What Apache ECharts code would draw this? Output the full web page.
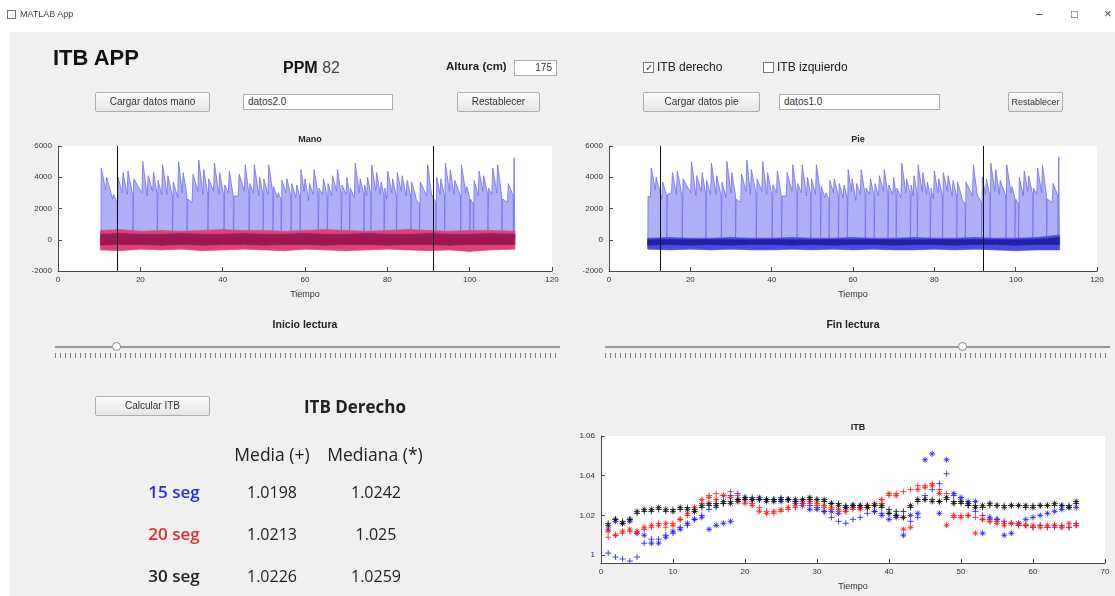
<!DOCTYPE html>
<html><head><meta charset="utf-8">
<script src="https://cdn.jsdelivr.net/npm/echarts@6/dist/echarts.min.js"></script>
<style>
html,body{margin:0;padding:0;width:1115px;height:596px;overflow:hidden;background:#fff;font-family:"Liberation Sans",Arial,sans-serif;}
#panel{position:absolute;left:10px;top:32px;width:1105px;height:564px;background:#f0f0f0;}
#chart{position:absolute;left:0;top:0;width:1115px;height:596px;z-index:1;}
.ui{position:absolute;z-index:2;box-sizing:border-box;}
.btn{background:linear-gradient(#fbfbfb,#e6e6e6);border:1px solid #adadad;border-radius:2px;font-size:10px;color:#333;text-align:center;line-height:18px;white-space:nowrap;overflow:hidden;}
.txt{background:#fff;border:1px solid #abadb3;font-size:10px;color:#333;padding-left:4px;line-height:14px;}
.lbl{font-size:12px;color:#222;white-space:nowrap;}
.tbl{font-family:"Open Sans",sans-serif;font-size:16px;color:#222;text-align:center;white-space:nowrap;}
.track{height:2px;background:#9a9a9a;}
.ticks{height:5px;background:repeating-linear-gradient(to right,#808080 0 1px,transparent 1px 5px);}
.thumb{width:9px;height:9px;border-radius:50%;background:#fff;border:1px solid #8a8a8a;}
.chk{width:11px;height:11px;background:#fff;border:1px solid #7a7a7a;font-size:10px;line-height:9px;text-align:center;color:#333;}
</style></head>
<body>
<div id="panel"></div>
<!-- title bar -->
<div class="ui" style="left:7px;top:10px;width:9px;height:9px;border:1px solid #777;"></div>
<div class="ui lbl" style="left:20px;top:9px;font-size:9px;color:#444;">MATLAB App</div>
<div class="ui lbl" style="left:1036px;top:7px;font-size:12px;color:#444;">–</div>
<div class="ui lbl" style="left:1071px;top:7px;font-size:12px;color:#444;">□</div>
<div class="ui lbl" style="left:1104px;top:6px;font-size:13px;color:#444;">×</div>

<!-- header left -->
<div class="ui" style="left:53px;top:45px;font-size:22px;font-weight:bold;color:#111;">ITB APP</div>
<div class="ui" style="left:283px;top:59px;font-size:16px;color:#111;"><b>PPM</b> <span style="color:#444">82</span></div>
<div class="ui lbl" style="left:446px;top:60px;font-weight:bold;font-size:11.5px;">Altura (cm)</div>
<div class="ui txt" style="left:514px;top:60px;width:43px;height:16px;text-align:right;padding-right:4px;">175</div>
<div class="ui btn" style="left:95px;top:92px;width:115px;height:20px;">Cargar datos mano</div>
<div class="ui txt" style="left:243px;top:94px;width:150px;height:16px;">datos2.0</div>
<div class="ui btn" style="left:457px;top:92px;width:83px;height:20px;">Restablecer</div>

<!-- header right -->
<div class="ui chk" style="left:643px;top:62px;">✓</div>
<div class="ui lbl" style="left:657px;top:60px;">ITB derecho</div>
<div class="ui chk" style="left:763px;top:62px;"></div>
<div class="ui lbl" style="left:777px;top:60px;">ITB izquierdo</div>
<div class="ui btn" style="left:643px;top:92px;width:117px;height:20px;">Cargar datos pie</div>
<div class="ui txt" style="left:779px;top:94px;width:161px;height:16px;">datos1.0</div>
<div class="ui btn" style="left:1008px;top:92px;width:55px;height:20px;font-size:9px;">Restablecer</div>

<!-- sliders -->
<div class="ui lbl" style="left:205px;top:318px;width:200px;text-align:center;font-weight:bold;font-size:10.5px;">Inicio lectura</div>
<div class="ui track" style="left:55px;top:346px;width:505px;"></div>
<div class="ui ticks" style="left:55px;top:353px;width:505px;"></div>
<div class="ui thumb" style="left:112px;top:342px;"></div>
<div class="ui lbl" style="left:753px;top:318px;width:200px;text-align:center;font-weight:bold;font-size:10.5px;">Fin lectura</div>
<div class="ui track" style="left:605px;top:346px;width:505px;"></div>
<div class="ui ticks" style="left:605px;top:353px;width:505px;"></div>
<div class="ui thumb" style="left:958px;top:342px;"></div>

<!-- results -->
<div class="ui btn" style="left:95px;top:396px;width:115px;height:20px;">Calcular ITB</div>
<div class="ui tbl" style="left:255px;top:395px;width:200px;font-size:17px;font-weight:bold;">ITB Derecho</div>
<div class="ui tbl" style="left:212px;top:442px;width:120px;font-size:17.5px;">Media (+)</div>
<div class="ui tbl" style="left:315px;top:442px;width:120px;font-size:17.5px;">Mediana (*)</div>
<div class="ui tbl" style="left:124px;top:480px;width:100px;font-weight:600;font-size:17px;color:#2a2ae6;">15 seg</div>
<div class="ui tbl" style="left:212px;top:481px;width:120px;">1.0198</div>
<div class="ui tbl" style="left:316px;top:481px;width:120px;">1.0242</div>
<div class="ui tbl" style="left:124px;top:522px;width:100px;font-weight:600;font-size:17px;color:#e62a32;">20 seg</div>
<div class="ui tbl" style="left:212px;top:523px;width:120px;">1.0213</div>
<div class="ui tbl" style="left:316px;top:523px;width:120px;">1.025</div>
<div class="ui tbl" style="left:124px;top:564px;width:100px;font-weight:600;font-size:17px;">30 seg</div>
<div class="ui tbl" style="left:212px;top:565px;width:120px;">1.0226</div>
<div class="ui tbl" style="left:316px;top:565px;width:120px;">1.0259</div>

<div id="chart"></div>
<script>
// ---------- DATA ----------
const manoPeakT = [10.5,11.8,13.5,14.6,15.8,17.0,18.4,20.6,21.9,23.2,24.3,25.4,26.7,28.0,29.3,30.4,31.5,32.8,34.2,35.4,36.6,38.0,39.3,40.5,41.6,42.8,44.0,45.5,46.6,47.7,49.0,50.0,51.2,52.4,53.5,54.4,55.6,56.8,58.0,59.0,60.0,61.1,62.2,63.4,64.5,65.6,66.7,67.9,69.0,70.2,71.0,72.2,73.4,74.5,75.2,76.2,77.4,78.5,79.4,80.1,81.3,82.4,83.6,84.8,85.9,87.0,88.0,89.8,90.9,92.0,93.0,94.1,95.3,96.4,98.0,99.3,100.2,101.1,102.3,103.4,104.6,105.6,106.8,108.0,109.4,110.8];
const manoPeakV = [4600,4000,2900,4000,4300,4400,3900,5000,4100,4300,
  3800,4800,4100,3700,5000,4300,2600,4200,5100,4500,
  3900,4900,4300,3500,4400,2800,4200,4800,3600,4800,
  4000,3900,4800,3400,3000,3800,3900,3600,3500,4500,
  3900,3600,4500,3300,3900,3600,4100,4500,3500,4000,
  3300,4900,3900,3500,4000,4800,4300,3700,3300,4400,
  3900,4300,4100,3800,3700,2600,3700,4800,2800,4000,
  3900,4900,4500,3800,4800,3400,2600,3800,4400,4100,
  3300,4600,4800,2600,3600,5250];
const manoShoulder = [3200,2600,2400,3000,2900,2800,3000,2800,3100,2900,
  2900,2900,2800,2700,3000,2900,2400,3100,2900,2900,
  3100,2900,2800,3000,2800,2800,3100,2900,3000,2800,
  2900,2900,3000,2700,2600,3000,2800,2700,2700,3100,
  2500,2900,2900,2900,2800,2800,3100,2900,2900,2900,
  2700,3000,2900,2800,2900,3100,2900,2800,2600,3000,
  2800,3100,2800,2800,2900,2300,2800,3000,2400,2900,
  2800,3100,2900,2800,3000,2700,2300,2800,3100,2900,
  2900,3000,2800,2400,2800,2800];
const manoGap = [0,0,1,0,0,1,0,0,0,1,
  0,0,1,0,0,1,0,0,0,1,
  0,0,1,0,1,0,0,1,0,0,
  1,0,1,0,1,0,1,0,1,0,
  0,0,1,0,1,0,0,1,0,1,
  0,0,1,0,1,0,0,1,0,0,
  1,0,0,1,0,1,0,0,1,0,
  1,0,0,1,0,1,1,0,0,1,
  0,0,1,0,1,1];
const manoBandT  = [10.3,15,20,25,30,35,40,45,50,55,60,65,70,75,80,85,90,95,100,105,111];
const manoBandLo = [-650,-700,-600,-650,-600,-700,-650,-600,-650,-700,-600,-650,-700,-650,-600,-650,-700,-650,-750,-650,-600];
const manoBandHi = [600,650,550,600,550,600,650,600,600,550,600,650,600,550,600,650,600,550,600,600,550];
const manoCoreLo = [-350,-300,-300,-350,-300,-350,-300,-300,-350,-300,-300,-350,-300,-300,-350,-300,-300,-350,-300,-300,-300];
const manoCoreHi = [350,400,350,350,400,350,350,400,350,350,400,350,350,400,350,350,400,350,350,400,350];
const manoCursors = [14.3, 91.1];

const piePeakT = [9.6,10.4,11.6,13.2,14.4,15.6,16.8,18.2,20.3,21.6,
  22.9,24.0,25.2,26.5,27.8,29.0,30.2,31.3,32.6,33.9,
  35.0,36.4,37.8,39.0,40.3,41.4,42.6,43.8,45.2,46.4,
  47.5,48.8,49.8,51.0,52.2,53.3,54.3,55.4,56.6,57.8,
  58.8,59.8,60.9,62.0,63.2,64.3,65.4,66.5,67.7,68.8,
  70.0,70.8,72.0,73.2,74.3,75.0,76.0,77.2,78.3,79.2,
  80.0,81.1,82.2,83.4,84.6,85.7,86.8,87.8,89.6,90.7,
  91.8,92.8,93.9,95.1,96.2,97.8,99.1,100.0,100.9,102.1,
  103.2,104.4,105.4,106.6,107.8,109.2,110.6];
const piePeakV = [2800,4600,4000,3700,2900,4300,4400,3900,5000,4100,
  4300,3800,4900,4100,3700,5000,4300,2600,4200,5100,
  4500,3900,5000,4300,3500,4400,2800,4300,4800,3600,
  4800,4000,3900,4800,3400,3000,3800,3900,3600,3500,
  4500,3900,3600,4500,3300,3900,3600,4100,4500,3500,
  4000,3300,4900,3900,3500,4100,4800,4300,3700,3300,
  4400,3900,4300,4100,3800,3700,2600,3700,4800,2800,
  4000,3900,4900,4500,3800,4800,3400,2600,4000,4400,
  4100,3300,4600,4800,2600,3600,5300];
const pieShoulder = [2700,3200,2600,2800,3000,2900,2800,3000,2800,3100,
  2900,2900,2900,2800,2700,3000,2900,2400,3100,2900,
  2900,3100,2900,2800,3000,2800,2800,3100,2900,3000,
  2800,2900,2900,3000,2700,2600,3000,2800,2700,2700,
  3100,2500,2900,2900,2900,2800,2800,3100,2900,2900,
  2900,2700,3000,2900,2800,2900,3100,2900,2800,2600,
  3000,2800,3100,2800,2800,2900,2300,2800,3000,2400,
  2900,2800,3100,2900,2800,3000,2700,2300,2800,3100,
  2900,2900,3000,2800,2400,2800,2800];
const pieGap = [0,0,0,1,0,0,1,0,0,0,
  1,0,0,1,0,0,1,0,0,0,
  1,0,0,1,0,1,0,0,1,0,
  0,1,0,1,0,1,0,1,0,1,
  0,0,0,1,0,1,0,0,1,0,
  1,0,0,1,0,1,0,0,1,0,
  0,1,0,0,1,0,1,0,0,1,
  0,1,0,0,1,0,1,1,0,0,
  1,0,0,1,0,1,1];
const pieBandT  = [9.5,15,20,25,30,35,40,45,50,55,60,65,70,75,80,85,90,95,100,105,110.8];
const pieBandLo = [-600,-650,-600,-650,-600,-650,-650,-600,-650,-600,-650,-600,-650,-650,-600,-650,-600,-650,-700,-650,-650];
const pieBandHi = [100,150,100,100,150,100,100,150,100,100,150,100,100,150,100,100,150,100,100,150,300];
const pieCoreLo = [-350,-300,-350,-300,-350,-300,-300,-350,-300,-350,-300,-300,-350,-300,-300,-350,-300,-300,-350,-300,-300];
const pieCoreHi = [0,20,0,20,0,0,20,0,0,20,0,20,0,0,20,0,20,0,0,20,150];
const pieCursors = [12.5, 92.0];

const itbT = [1,2,3,4,5,6,7,8,9,10,11,12,13,14,15,16,17,18,19,20,21,22,23,24,25,26,27,28,29,30,31,32,33,34,35,36,37,38,39,40,41,42,43,44,45,46,47,48,49,50,51,52,53,54,55,56,57,58,59,60,61,62,63,64,65,66];
const b15Media = [1.001,0.999,0.998,0.997,0.999,1.006,1.008,1.008,1.010,1.011,
  1.014,1.015,1.018,1.020,1.023,1.024,1.026,1.030,1.031,1.029,
  1.029,1.028,1.028,1.028,1.029,1.028,1.027,1.026,1.025,1.024,
  1.022,1.019,1.017,1.016,1.018,1.019,1.021,1.022,1.021,1.021,
  1.020,1.019,1.017,1.019,1.030,1.033,1.036,1.041,1.030,1.027,
  1.025,1.022,1.020,1.018,1.018,1.017,1.016,1.015,1.015,1.014,
  1.015,1.014,1.014,1.015,1.014,1.016];
const b15Mediana = [1.013,1.017,1.016,1.017,1.011,1.010,1.006,1.006,1.009,1.012,
  1.013,1.016,1.018,1.019,1.013,1.015,1.016,1.017,1.027,1.028,
  1.028,1.029,1.027,1.028,1.027,1.028,1.026,1.025,1.023,1.023,
  1.022,1.022,1.021,1.024,1.025,1.024,1.024,1.022,1.020,1.018,
  1.019,1.010,1.020,1.021,1.048,1.051,1.021,1.048,1.031,1.029,
  1.027,1.027,1.011,1.019,1.018,1.010,1.011,1.016,1.018,1.019,
  1.020,1.021,1.022,1.023,1.024,1.024];
const r20Media = [1.009,1.010,1.011,1.012,1.011,1.013,1.014,1.016,1.014,1.016,
  1.018,1.020,1.022,1.026,1.030,1.031,1.030,1.032,1.030,1.028,
  1.026,1.024,1.022,1.021,1.022,1.023,1.024,1.025,1.026,1.025,
  1.024,1.023,1.022,1.022,1.023,1.024,1.025,1.025,1.026,1.030,
  1.031,1.032,1.033,1.035,1.035,1.036,1.033,1.031,1.019,1.020,
  1.020,1.019,1.018,1.017,1.017,1.016,1.016,1.015,1.015,1.014,
  1.015,1.014,1.015,1.014,1.014,1.015];
const r20Mediana = [1.012,1.010,1.012,1.013,1.012,1.014,1.015,1.015,1.016,1.015,
  1.018,1.021,1.024,1.028,1.029,1.028,1.030,1.029,1.027,1.026,
  1.025,1.022,1.021,1.022,1.023,1.024,1.025,1.027,1.027,1.026,
  1.025,1.024,1.023,1.022,1.024,1.023,1.025,1.026,1.028,1.031,
  1.030,1.013,1.014,1.033,1.034,1.035,1.031,1.015,1.020,1.019,
  1.020,1.011,1.018,1.017,1.016,1.015,1.016,1.016,1.015,1.015,
  1.014,1.015,1.015,1.014,1.016,1.015];
const k30Media = [1.016,1.018,1.017,1.018,1.021,1.022,1.022,1.023,1.022,1.023,
  1.023,1.024,1.023,1.024,1.025,1.026,1.026,1.027,1.028,1.028,
  1.028,1.028,1.028,1.028,1.028,1.028,1.027,1.028,1.028,1.028,
  1.027,1.026,1.026,1.025,1.025,1.025,1.025,1.025,1.024,1.023,
  1.022,1.022,1.024,1.027,1.028,1.028,1.027,1.028,1.027,1.026,
  1.025,1.025,1.024,1.025,1.025,1.025,1.025,1.025,1.024,1.025,
  1.025,1.025,1.025,1.025,1.025,1.026];
const k30Mediana = [1.015,1.018,1.016,1.018,1.022,1.023,1.023,1.024,1.023,1.022,
  1.024,1.023,1.022,1.025,1.026,1.025,1.027,1.026,1.028,1.029,
  1.028,1.028,1.028,1.027,1.028,1.028,1.028,1.028,1.029,1.028,
  1.028,1.026,1.025,1.024,1.025,1.025,1.024,1.025,1.025,1.021,
  1.020,1.019,1.025,1.028,1.028,1.027,1.027,1.029,1.026,1.027,
  1.026,1.024,1.025,1.026,1.025,1.024,1.025,1.025,1.025,1.024,
  1.025,1.025,1.026,1.025,1.024,1.027];

const itbYTicks = [1,1.02,1.04,1.06];

// ---------- BUILD ----------
function spikes(T, V, S, G) {
  const out = [[T[0] - 0.05, 0]];
  for (let i = 0; i < T.length; i++) {
    out.push([T[i], V[i]]);
    if (i < T.length - 1) {
      out.push([T[i + 1] - 0.22, S[i]]);
      if (G[i]) { out.push([T[i + 1] - 0.18, 0]); out.push([T[i + 1] - 0.06, 0]); }
    }
  }
  out.push([T[T.length - 1] + 0.15, 0]);
  return out;
}
function pairs(T, V) { return T.map((t, i) => [t, V[i]]); }

const axisTxt = {color: '#333', fontSize: 8, fontFamily: 'Liberation Sans'};
const axLine = {show: true, onZero: false, lineStyle: {color: '#4a4a4a', width: 1}};
const tick = {show: true, inside: true, length: 4, lineStyle: {color: '#4a4a4a'}};
const plain = v => String(v);

function sigX(gi) {
  return {type: 'value', gridIndex: gi, min: 0, max: 120, interval: 20,
    axisLine: axLine, axisTick: tick, splitLine: {show: false},
    axisLabel: Object.assign({margin: 5, formatter: plain}, axisTxt),
    name: 'Tiempo', nameLocation: 'middle', nameGap: 19,
    nameTextStyle: {color: '#333', fontSize: 9}};
}
function sigY(gi) {
  return {type: 'value', gridIndex: gi, min: -2000, max: 6000, interval: 2000,
    axisLine: axLine, axisTick: tick, splitLine: {show: false},
    axisLabel: Object.assign({margin: 6, formatter: plain}, axisTxt)};
}
function band(gi, T, lo, hi, color) {
  return {type: 'custom', xAxisIndex: gi, yAxisIndex: gi, silent: true, z: 3, clip: true,
    data: T.map((t, i) => [t, lo[i], hi[i]]),
    encode: {x: 0, y: [1, 2]},
    renderItem(params, api) {
      const i = params.dataIndex;
      if (i >= T.length - 1) return null;
      const pts = [api.coord([T[i], lo[i]]), api.coord([T[i + 1], lo[i + 1]]),
                   api.coord([T[i + 1], hi[i + 1]]), api.coord([T[i], hi[i]])];
      return {type: 'polygon', shape: {points: pts}, style: {fill: color, stroke: color, lineWidth: 0.6}};
    }};
}
function cursorLines(vals) {
  return {silent: true, symbol: 'none', label: {show: false},
    lineStyle: {color: '#111', width: 1, type: 'solid'},
    data: vals.map(v => ({xAxis: v}))};
}

const plusPath = 'path://M5 0L5 10M0 5L10 5';
const starPath = 'path://M5 0L5 10M0 5L10 5M1.6 1.6L8.4 8.4M8.4 1.6L1.6 8.4';
function itbSeries(V, path, color) {
  return {type: 'scatter', xAxisIndex: 2, yAxisIndex: 2, data: pairs(itbT, V),
    symbol: path, symbolSize: 6,
    itemStyle: {color: 'rgba(0,0,0,0)', borderColor: color, borderWidth: 1}, z: 4};
}

const chart = echarts.init(document.getElementById('chart'), null, {renderer: 'canvas'});
chart.setOption({
  animation: false,
  backgroundColor: 'transparent',
  title: [
    {text: 'Mano', left: 305, top: 130, textAlign: 'center', textStyle: {fontSize: 9, fontWeight: 'bold', color: '#222'}},
    {text: 'Pie', left: 853, top: 130, textAlign: 'center', textStyle: {fontSize: 9, fontWeight: 'bold', color: '#222'}},
    {text: 'ITB', left: 853, top: 418, textAlign: 'center', textStyle: {fontSize: 9, fontWeight: 'bold', color: '#222'}}
  ],
  grid: [
    {left: 58, top: 146, width: 494, height: 125, show: true, backgroundColor: '#fff', borderWidth: 0},
    {left: 609, top: 146, width: 488, height: 125, show: true, backgroundColor: '#fff', borderWidth: 0},
    {left: 601, top: 436, width: 504, height: 127, show: true, backgroundColor: '#fff', borderWidth: 0}
  ],
  xAxis: [sigX(0), sigX(1),
    {type: 'value', gridIndex: 2, min: 0, max: 70, interval: 10,
      axisLine: axLine, axisTick: tick, splitLine: {show: false},
      axisLabel: Object.assign({margin: 5, formatter: plain}, axisTxt),
      name: 'Tiempo', nameLocation: 'middle', nameGap: 19,
      nameTextStyle: {color: '#333', fontSize: 9}}],
  yAxis: [sigY(0), sigY(1),
    {type: 'value', gridIndex: 2, min: 0.996, max: 1.06,
      axisLine: axLine, splitLine: {show: false},
      axisTick: Object.assign({customValues: itbYTicks}, tick),
      axisLabel: Object.assign({margin: 6, customValues: itbYTicks, formatter: v => String(+v.toFixed(2))}, axisTxt)}],
  series: [
    {type: 'line', xAxisIndex: 0, yAxisIndex: 0, data: spikes(manoPeakT, manoPeakV, manoShoulder, manoGap),
      symbol: 'none', lineStyle: {color: '#7070ee', width: 0.8},
      areaStyle: {color: '#b0b0f8', opacity: 1}, z: 2, markLine: cursorLines(manoCursors)},
    band(0, manoBandT, manoBandLo, manoBandHi, '#e0407a'),
    band(0, manoBandT, manoCoreLo, manoCoreHi, '#9a1850'),
    {type: 'line', xAxisIndex: 1, yAxisIndex: 1, data: spikes(piePeakT, piePeakV, pieShoulder, pieGap),
      symbol: 'none', lineStyle: {color: '#7070ee', width: 0.8},
      areaStyle: {color: '#b0b0f8', opacity: 1}, z: 2, markLine: cursorLines(pieCursors)},
    band(1, pieBandT, pieBandLo, pieBandHi, '#4b4be2'),
    band(1, pieBandT, pieCoreLo, pieCoreHi, '#2222a8'),
    itbSeries(b15Media, plusPath, '#1a1aff'),
    itbSeries(b15Mediana, starPath, '#1a1aff'),
    itbSeries(r20Media, plusPath, '#ff1a1a'),
    itbSeries(r20Mediana, starPath, '#ff1a1a'),
    itbSeries(k30Media, plusPath, '#111111'),
    itbSeries(k30Mediana, starPath, '#111111')
  ]
});
</script>
</body></html>
